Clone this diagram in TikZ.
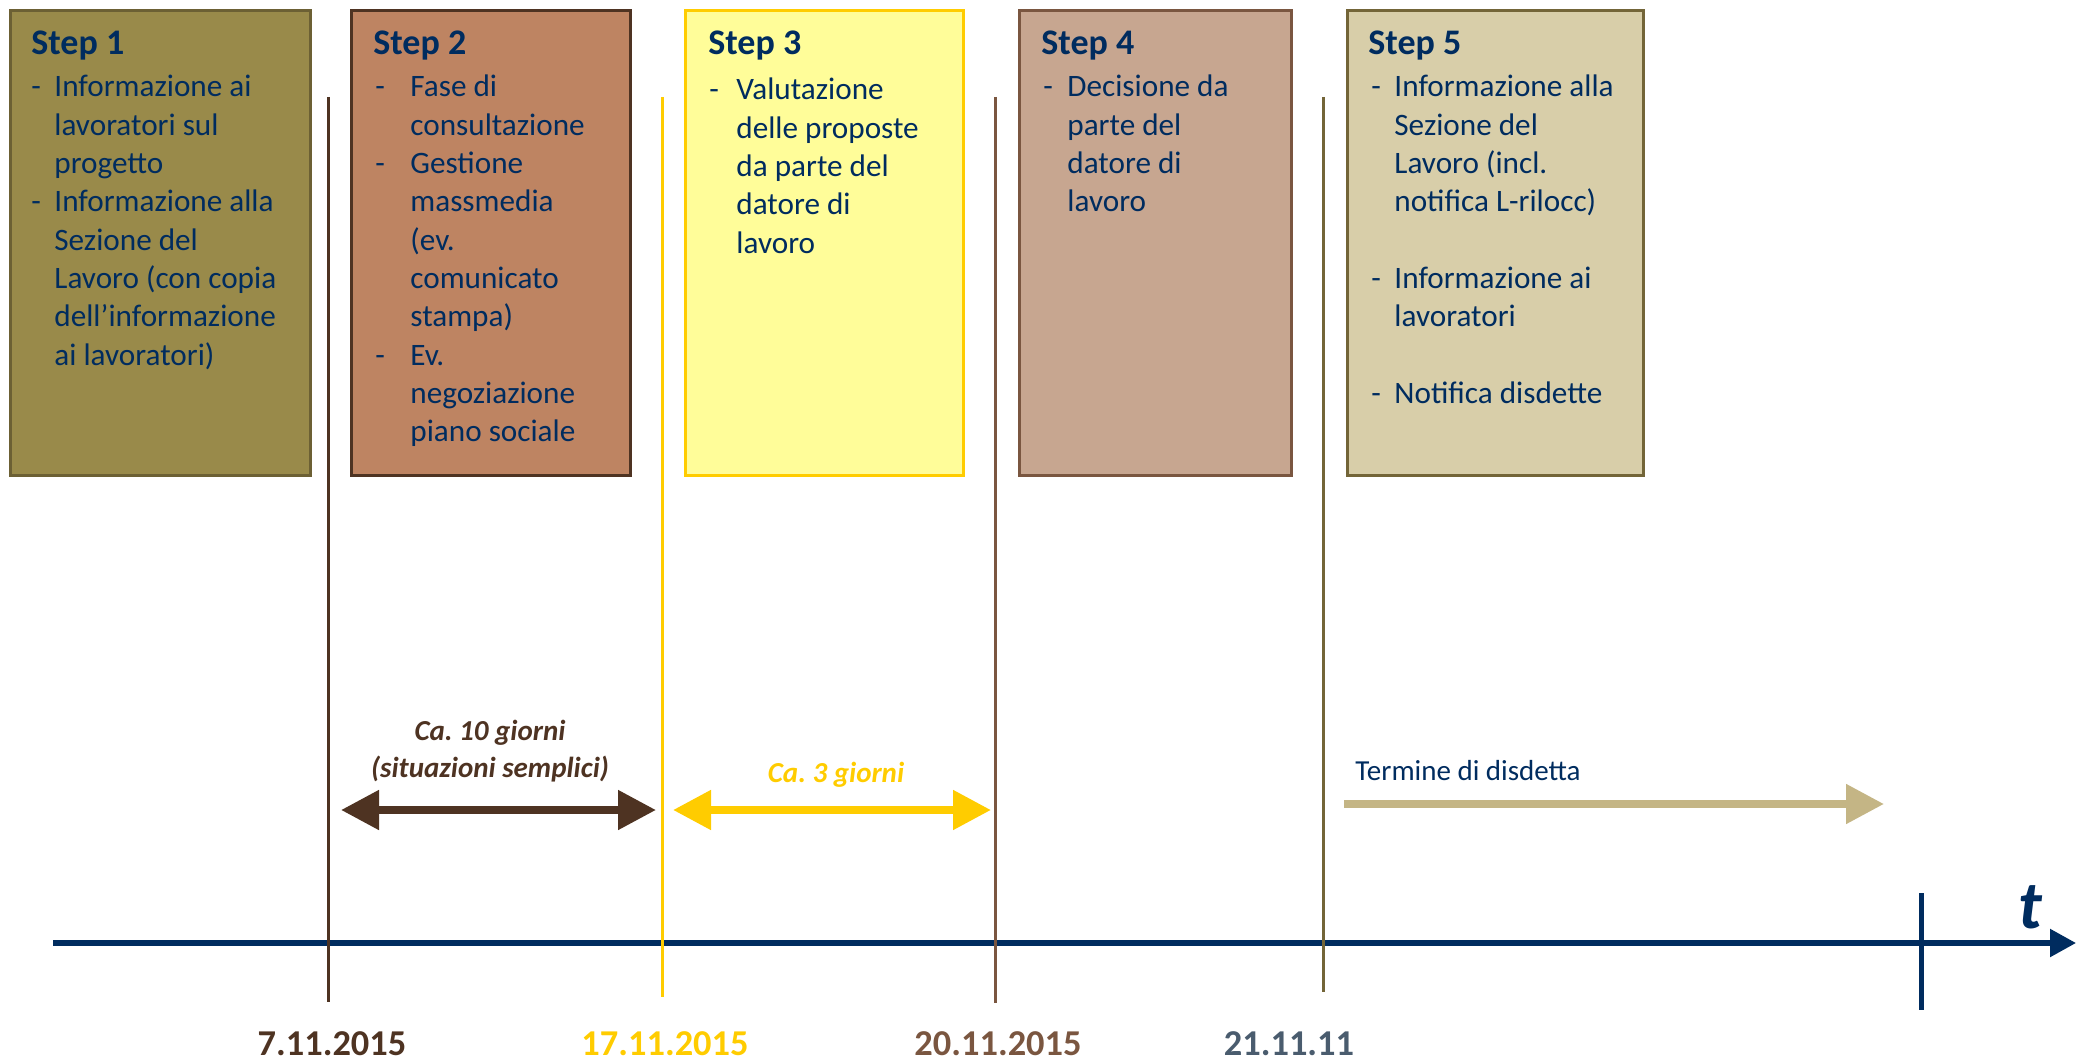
\documentclass[tikz,border=0pt]{standalone}
\usepackage{fontspec}
\setmainfont{Carlito}
\usetikzlibrary{arrows.meta,positioning}
\frenchspacing

\definecolor{navy}{RGB}{0,44,95}
\definecolor{olivefill}{RGB}{153,138,74}
\definecolor{olivedraw}{RGB}{108,96,52}
\definecolor{rustfill}{RGB}{190,132,98}
\definecolor{rustdraw}{RGB}{78,51,34}
\definecolor{lemonfill}{RGB}{255,253,153}
\definecolor{goldline}{RGB}{255,204,0}
\definecolor{tanfill}{RGB}{199,166,144}
\definecolor{tandraw}{RGB}{122,86,64}
\definecolor{sandfill}{RGB}{216,206,169}
\definecolor{sanddraw}{RGB}{115,101,56}
\definecolor{khaki}{RGB}{196,181,133}
\definecolor{slate}{RGB}{74,92,110}

\begin{document}
\begin{tikzpicture}[x=0.5pt, y=-0.5pt,
  stepbox/.style 2 args={rectangle, fill=#1, draw=#2, line width=1.5pt,
    minimum height=232.5pt, inner sep=0pt, anchor=north west},
  heading/.style={anchor=base west, inner sep=0pt, text=navy,
    font=\fontsize{18}{21}\selectfont\bfseries},
  itemlist/.style={anchor=base west, inner sep=0pt, text=navy,
    font=\fontsize{15.6}{19.15}\selectfont},
  dateline/.style={draw=#1, line width=1.5pt},
  datelabel/.style={anchor=base, inner sep=0pt, text=#1,
    font=\fontsize{18.2}{21}\selectfont\bfseries},
  span/.style={draw=#1, line width=4pt,
    {Triangle[length=19pt,width=19pt]}-{Triangle[length=19pt,width=19pt]}},
  spanlabel/.style={anchor=base, inner sep=0pt, text=#1, align=center,
    font=\fontsize{14.5}{18.5}\selectfont\bfseries\itshape}]

  \useasboundingbox (0,0) rectangle (2080,1063);

  % the five steps
  \node[stepbox={olivefill}{olivedraw}, minimum width=150pt] (box1) at (9,9) {};
  \node[stepbox={rustfill}{rustdraw}, minimum width=139.5pt] (box2) at (350,9) {};
  \node[stepbox={lemonfill}{goldline}, minimum width=139pt] (box3) at (684,9) {};
  \node[stepbox={tanfill}{tandraw}, minimum width=136pt] (box4) at (1018,9) {};
  \node[stepbox={sandfill}{sanddraw}, minimum width=148pt] (box5) at (1346,9) {};

  \node[heading] (head1) at (31,55) {Step 1};
  \node[heading] (head2) at (373,55) {Step 2};
  \node[heading] (head3) at (708,55) {Step 3};
  \node[heading] (head4) at (1041,55) {Step 4};
  \node[heading] (head5) at (1368,55) {Step 5};

  \node[itemlist] (list1) at (31,97) {\begin{tabular}[t]{@{}p{11.5pt}@{}l@{}}
    - & Informazione ai\\ & lavoratori sul\\ & progetto\\
    - & Informazione alla\\ & Sezione del\\ & Lavoro (con copia\\
      & dell’informazione\\ & ai lavoratori)
  \end{tabular}};
  \node[itemlist] (list2) at (375,97) {\begin{tabular}[t]{@{}p{17.5pt}@{}l@{}}
    - & Fase di\\ & consultazione\\
    - & Gestione\\ & massmedia\\ & (ev.\\ & comunicato\\ & stampa)\\
    - & Ev.\\ & negoziazione\\ & piano sociale
  \end{tabular}};
  \node[itemlist] (list3) at (709,100) {\begin{tabular}[t]{@{}p{13.5pt}@{}l@{}}
    - & Valutazione\\ & delle proposte\\ & da parte del\\ & datore di\\ & lavoro
  \end{tabular}};
  \node[itemlist] (list4) at (1043,97) {\begin{tabular}[t]{@{}p{12pt}@{}l@{}}
    - & Decisione da\\ & parte del\\ & datore di\\ & lavoro
  \end{tabular}};
  \node[itemlist] (list5) at (1371,97) {\begin{tabular}[t]{@{}p{11.5pt}@{}l@{}}
    - & Informazione alla\\ & Sezione del\\ & Lavoro (incl.\\ & notifica L-rilocc)\\ & \\
    - & Informazione ai\\ & lavoratori\\ & \\
    - & Notifica disdette
  \end{tabular}};

  % time axis
  \coordinate (start) at (53,943);
  \coordinate (end) at (2076,943);
  \draw[navy, line width=2.7pt, -{Triangle[length=13pt,width=13.5pt]}] (start) -- (end);
  \coordinate (tickup) at (1921,893);
  \coordinate (tickdown) at (1921,1010);
  \draw[navy, line width=2.5pt] (tickup) -- (tickdown);
  \node[anchor=base, inner sep=0pt, text=navy,
    font=\fontsize{34}{40}\selectfont\bfseries\itshape] (tlabel) at (2030,928) {t};

  % dates
  \coordinate (top1) at (328,97);  \coordinate (bot1) at (328,1002);
  \coordinate (top2) at (662,97);  \coordinate (bot2) at (662,997);
  \coordinate (top3) at (995,97);  \coordinate (bot3) at (995,1003);
  \coordinate (top4) at (1323,97); \coordinate (bot4) at (1323,992);
  \draw[dateline=rustdraw] (top1) -- (bot1);
  \draw[dateline=goldline] (top2) -- (bot2);
  \draw[dateline=tandraw] (top3) -- (bot3);
  \draw[dateline=sanddraw] (top4) -- (bot4);

  \node[datelabel=rustdraw] (date1) at (332,1055) {7.11.2015};
  \node[datelabel=goldline] (date2) at (665,1055) {17.11.2015};
  \node[datelabel=tandraw] (date3) at (998,1055) {20.11.2015};
  \node[datelabel=slate] (date4) at (1289,1055) {21.11.11};

  % durations
  \coordinate (spanA1) at (341,810); \coordinate (spanA2) at (656,810);
  \coordinate (spanB1) at (673,810); \coordinate (spanB2) at (991,810);
  \draw[span=rustdraw] (spanA1) -- (spanA2);
  \draw[span=goldline] (spanB1) -- (spanB2);
  \node[spanlabel=rustdraw] (lblA) at (490,740) {Ca. 10 giorni};
  \node[spanlabel=rustdraw] (lblA2) at (490,777) {(situazioni semplici)};
  \node[spanlabel=goldline] (lblB) at (836,782) {Ca. 3 giorni};

  \coordinate (notice1) at (1344,804); \coordinate (notice2) at (1884,804);
  \draw[khaki, line width=4pt, -{Triangle[length=19pt,width=19pt]}] (notice1) -- (notice2);
  \node[anchor=base west, inner sep=0pt, text=navy,
    font=\fontsize{14.5}{18}\selectfont] (lblC) at (1355,780) {Termine di disdetta};
\end{tikzpicture}
\end{document}
